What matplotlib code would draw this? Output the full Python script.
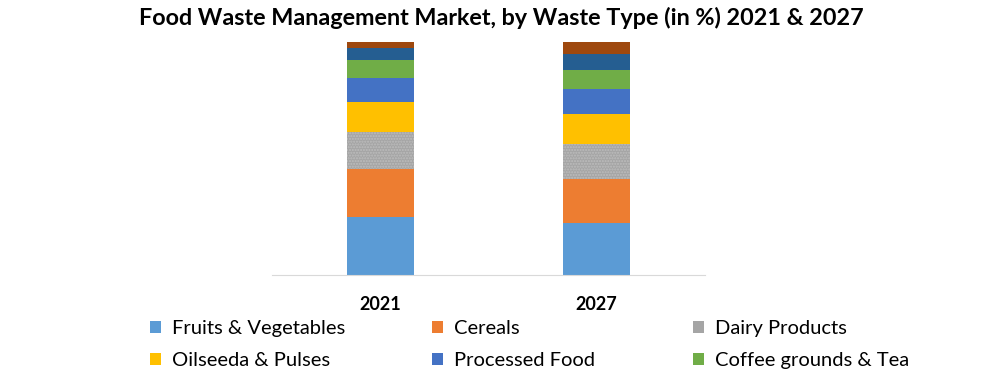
import numpy as np
import matplotlib.pyplot as plt
from matplotlib.patches import Patch

# Anteile je Abfallart (%), 2021 und 2027
years = ['2021', '2027']
categories = ['Fruits & Vegetables', 'Cereals', 'Dairy Products', 'Oilseeda & Pulses',
              'Processed Food', 'Coffee grounds & Tea', 'Other 1', 'Other 2']
values_2021 = [25.1, 20.6, 15.5, 12.9, 10.3, 7.7, 5.2, 2.7]
values_2027 = [22.3, 18.9, 14.9, 12.9, 10.9, 8.0, 6.9, 5.2]
colors = ['#5b9bd5', '#ed7d31', '#a5a5a5', '#ffc000', '#4472c4', '#70ad47', '#255e91', '#9e480e']

plt.rcParams['font.family'] = ['Lato', 'DejaVu Sans']

fig = plt.figure(figsize=(10.02, 3.77), dpi=100)
ax = fig.add_axes([0.2715, 0.2698, 0.432, 0.6196])

x = np.arange(len(years))
data = np.array([values_2021, values_2027]).T
bottom = np.zeros(len(years))
for i, cat in enumerate(categories):
    kw = {}
    if cat == 'Dairy Products':
        kw = dict(hatch='......', edgecolor='#bdbdbd', linewidth=0)
    ax.bar(x, data[i], 0.31, bottom=bottom, color=colors[i], label=cat, **kw)
    bottom += data[i]

ax.set_xlim(-0.5, 1.5)
ax.set_ylim(0, 100)
ax.set_xticks(x)
ax.set_xticklabels(years, fontsize=13, fontweight='bold')
ax.set_yticks([])
ax.tick_params(axis='x', length=0, pad=15)
for s in ['top', 'right', 'left']:
    ax.spines[s].set_visible(False)
ax.spines['bottom'].set_color('#d9d9d9')

fig.text(0.5, 0.952, 'Food Waste Management Market, by Waste Type (in %) 2021 & 2027',
         ha='center', va='center', fontsize=16.8, fontweight='bold')

# Legende: drei Spalten, je zwei Einträge (nur die ersten sechs Kategorien)
col_x = [0.1497, 0.431, 0.6916]
for c in range(3):
    idx = [c, c + 3]
    handles = [Patch(facecolor=colors[i], label=categories[i]) for i in idx]
    fig.legend(handles=handles, ncol=1, loc='upper left',
               bbox_to_anchor=(col_x[c], 1 - 320 / 377), frameon=False,
               fontsize=14.5, handlelength=0.55, handleheight=0.55,
               handletextpad=0.55, labelspacing=0.76, borderpad=0,
               borderaxespad=0)

fig.savefig('out.png', dpi=100)
